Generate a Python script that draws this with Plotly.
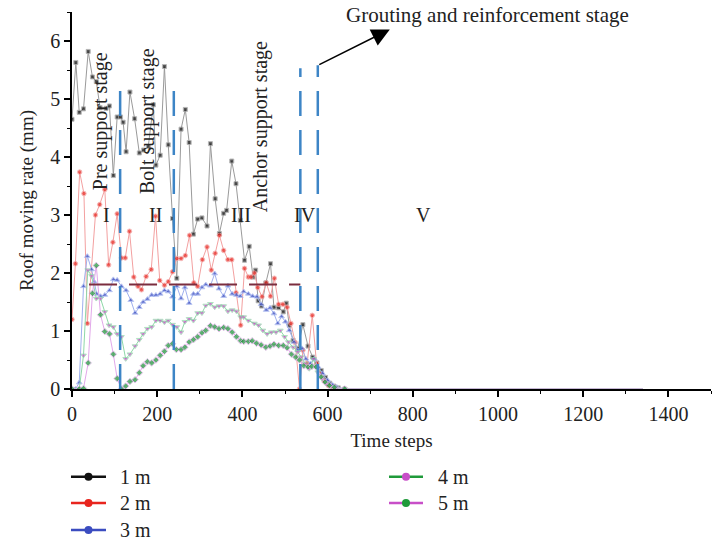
import plotly.graph_objects as go

# ---- data ----
x1 = [0, 9, 17, 27, 38, 48, 57, 66, 80, 88, 97, 106, 114, 120, 127, 136, 147, 158, 168, 179,
      191, 197, 207, 217, 226, 236, 246, 256, 266, 275, 285, 295, 305, 317, 325, 336, 346, 356, 363, 375,
      385, 395, 405, 416, 425, 431, 437, 445, 455, 466, 474, 485, 496, 503, 510, 519, 530, 542, 554, 565,
      575, 585, 595, 605, 615, 625, 640, 1340]
y1 = [4.65, 5.63, 4.77, 4.83, 5.82, 5.38, 5.3, 4.85, 4.84, 4.88, 3.68, 4.69, 4.69, 4.6, 4.09, 5.12, 4.66, 4.07, 4.12, 4.18,
      4.9, 3.86, 4.03, 5.56, 4.21, 2.94, 1.91, 4.48, 4.82, 4.25, 2.67, 2.93, 2.95, 2.81, 4.23, 3.28, 2.68, 3.03, 3.08, 3.93,
      3.54, 2.91, 2.22, 2.46, 1.93, 2.05, 1.52, 1.43, 1.83, 2.16, 1.41, 1.4, 1.33, 1.48, 1.1, 0.84, 0.7, 1.11, 0.74, 0.55,
      0.45, 0.32, 0.2, 0.1, 0.05, 0.02, 0, 0]

x2 = [0, 8, 18, 28, 36, 55, 65, 77, 86, 96, 106, 116, 125, 135, 145, 155, 163, 174, 186, 196,
      206, 217, 226, 236, 246, 256, 266, 276, 286, 295, 306, 317, 327, 336, 346, 356, 366, 375, 385, 396,
      405, 414, 420, 428, 436, 446, 456, 466, 475, 485, 495, 505, 514, 524, 534, 542, 552, 564, 574, 583,
      592, 602, 612, 622, 640, 1340]
y2 = [1.2, 2.16, 3.74, 3.37, 1.13, 3.0, 3.18, 3.44, 2.14, 2.53, 3.02, 2.26, 2.26, 2.72, 1.93, 1.77, 1.71, 1.94, 2.06, 2.98,
      1.87, 1.79, 1.85, 2.02, 2.25, 2.25, 2.3, 2.65, 1.83, 1.77, 2.23, 2.45, 2.05, 2.34, 2.65, 2.39, 2.23, 2.23, 1.66, 1.1,
      2.08, 1.93, 1.93, 2.0, 1.75, 1.59, 1.83, 1.6, 1.91, 1.46, 1.46, 1.41, 1.13, 0.8, 0.0, 0.67, 0.44, 1.27, 0.44, 0.27,
      0.14, 0.06, 0.03, 0.01, 0, 0]

x3 = [0, 8, 17, 27, 36, 46, 52, 58, 67, 77, 88, 97, 106, 116, 127, 138, 148, 158, 167, 177,
      187, 197, 207, 217, 226, 236, 246, 256, 265, 275, 285, 295, 305, 314, 325, 335, 345, 356, 366, 376,
      386, 395, 403, 414, 424, 434, 444, 456, 465, 474, 483, 492, 501, 510, 521, 530, 540, 549, 560, 569,
      578, 588, 600, 612, 622, 640, 1340]
y3 = [0, 0, 0.11, 1.77, 2.29, 2.06, 1.85, 1.64, 1.6, 1.62, 1.7, 1.89, 1.88, 1.77, 1.7, 1.53, 1.31, 1.41, 1.5, 1.55,
      1.62, 1.62, 1.64, 1.7, 1.68, 1.59, 1.77, 1.56, 1.75, 1.48, 1.64, 1.64, 1.75, 1.8, 1.78, 1.99, 1.73, 1.6, 1.78, 1.64,
      1.62, 1.6, 1.68, 1.64, 1.6, 1.59, 1.46, 1.36, 1.4, 1.3, 1.13, 1.25, 1.16, 1.01, 0.81, 0.67, 0.7, 0.52, 0.44, 0.52,
      0.38, 0.27, 0.15, 0.07, 0.03, 0, 0]

x4 = [0, 17, 27, 37, 46, 57, 67, 77, 87, 97, 106, 116, 126, 136, 148, 158, 167, 177, 187, 197,
      207, 217, 226, 236, 246, 256, 265, 275, 285, 295, 305, 314, 325, 335, 345, 356, 366, 376, 386, 396,
      403, 414, 428, 438, 448, 458, 468, 479, 489, 499, 508, 519, 530, 538, 547, 557, 567, 577, 587, 597,
      609, 620, 640, 1340]
y4 = [0, 0, 0.58, 2.05, 1.95, 1.56, 1.56, 1.33, 1.1, 1.07, 0.95, 0.9, 0.52, 0.6, 0.74, 0.85, 0.95, 1.04, 1.07, 1.18,
      1.18, 1.15, 1.18, 1.11, 1.07, 0.98, 1.16, 1.21, 1.18, 1.31, 1.31, 1.44, 1.47, 1.41, 1.43, 1.43, 1.34, 1.36, 1.34, 1.24,
      1.24, 1.18, 1.13, 1.1, 1.01, 0.95, 0.98, 0.98, 1.01, 0.9, 0.81, 0.72, 0.64, 0.55, 0.44, 0.35, 0.52, 0.29, 0.18, 0.09,
      0.04, 0.01, 0, 0]

x5 = [0, 17, 27, 38, 48, 57, 67, 77, 88, 97, 106, 116, 126, 136, 148, 158, 167, 177, 187, 197,
      207, 217, 226, 236, 245, 256, 265, 275, 285, 295, 305, 314, 325, 335, 345, 356, 366, 376, 386, 396,
      403, 414, 423, 433, 444, 455, 465, 474, 485, 496, 505, 515, 525, 534, 544, 554, 563, 573, 585, 594,
      604, 616, 640, 1340]
y5 = [0, 0, 0.01, 0.45, 1.65, 2.13, 1.28, 0.99, 0.95, 0.6, 0.18, 0.0, 0.05, 0.13, 0.16, 0.28, 0.4, 0.47, 0.45, 0.5,
      0.58, 0.65, 0.75, 0.78, 0.68, 0.68, 0.72, 0.81, 0.85, 0.9, 0.97, 1.01, 1.09, 1.07, 1.04, 1.06, 1.04, 0.98, 0.9, 0.83,
      0.82, 0.82, 0.83, 0.79, 0.76, 0.72, 0.74, 0.77, 0.75, 0.75, 0.71, 0.6, 0.55, 0.5, 0.4, 0.38, 0.39, 0.38, 0.21, 0.12,
      0.06, 0.03, 0, 0]

series_names = ["1 m", "2 m", "3 m", "4 m", "5 m"]
stage_bounds = [113, 239, 536, 577]          # vertical dashed separators
stage_tops = [5.3, 5.3, 5.53, 5.58]
ref_level = 1.8                              # horizontal reference level
ref_span = [40, 536]
roman = ["I", "II", "III", "IV", "V"]
roman_x = [80, 195, 396, 546, 826]
stage_names = ["Pre support stage", "Bolt support stage", "Anchor support stage"]
stage_name_x = [66, 176, 441]
stage_name_y = [4.62, 4.62, 4.53]

FONT = "Liberation Serif"
TXT = "#222222"
marker_cols = ["#111111", "#e8251e", "#3b4cc0", "#c84fc8", "#1f9a3a"]
line_cols = ["#9a9a9a", "#f3a0a0", "#9fb0ee", "#8fd8a8", "#e2a8ea"]
symbols = ["square", "circle", "triangle-up", "triangle-down", "diamond"]
sizes = [4, 4.5, 5, 5, 5]

fig = go.Figure()
for xs, ys, name, mc, lc, sym, sz in zip([x1, x2, x3, x4, x5], [y1, y2, y3, y4, y5], series_names,
                                          marker_cols, line_cols, symbols, sizes):
    msize = [sz] * (len(xs) - 1) + [0]
    fig.add_trace(go.Scatter(x=xs, y=ys, mode="lines+markers", name=name, showlegend=False,
                             line=dict(color=lc, width=1),
                             marker=dict(color=mc, symbol=sym, size=msize)))

shapes = []
for xb, top in zip(stage_bounds, stage_tops):
    shapes.append(dict(type="line", xref="x", yref="y", x0=xb, x1=xb, y0=0, y1=top,
                       line=dict(color="#3d85c6", width=2.5, dash="25px,14px")))
shapes.append(dict(type="line", xref="x", yref="y", x0=ref_span[0], x1=ref_span[1], y0=ref_level, y1=ref_level,
                   line=dict(color="#7b2d3f", width=2, dash="28px,12px")))

ann = []
for t, xr in zip(roman, roman_x):
    ann.append(dict(x=xr, y=3.0, xref="x", yref="y", text=t, showarrow=False,
                    font=dict(family=FONT, size=20, color=TXT)))
for t, xs_, ys_ in zip(stage_names, stage_name_x, stage_name_y):
    ann.append(dict(x=xs_, y=ys_, xref="x", yref="y", text=t, showarrow=False, textangle=-90,
                    font=dict(family=FONT, size=20, color=TXT)))
ann.append(dict(x=746, y=6.2, xref="x", yref="y", ax=577, ay=5.58, axref="x", ayref="y",
                text="", showarrow=True, arrowhead=2, arrowsize=2.4, arrowwidth=1.5, arrowcolor="#000"))
ann.append(dict(x=976, y=6.44, xref="x", yref="y", text="Grouting and reinforcement stage", showarrow=False,
                font=dict(family=FONT, size=21, color=TXT)))

# ---- legend (two columns, drawn in paper coordinates below the axes) ----
leg_line = ["#111111", "#e8251e", "#3b4cc0", "#1f9a3a", "#c84fc8"]
leg_mark = ["#111111", "#e8251e", "#3b4cc0", "#c84fc8", "#1f9a3a"]
col_x = [(-0.0016, 0.0532, 0.0258, 0.072), (0.4961, 0.5493, 0.5227, 0.5696)]  # line start, line end, dot, text
row_y = [-0.2326, -0.3024, -0.374]
leg_slots = [(0, 0), (0, 1), (0, 2), (1, 0), (1, 1)]
for name, lc, mc, (ci, ri) in zip(series_names, leg_line, leg_mark, leg_slots):
    lx0, lx1, dx, tx = col_x[ci]
    ly = row_y[ri]
    shapes.append(dict(type="line", xref="paper", yref="paper", x0=lx0, x1=lx1, y0=ly, y1=ly,
                       line=dict(color=lc, width=2.5)))
    shapes.append(dict(type="circle", xref="paper", yref="paper", xsizemode="pixel", ysizemode="pixel",
                       xanchor=dx, yanchor=ly, x0=-4, x1=4, y0=-4, y1=4,
                       fillcolor=mc, line=dict(color=mc, width=0)))
    ann.append(dict(x=tx, y=ly, xref="paper", yref="paper", text=name, showarrow=False,
                    xanchor="left", yanchor="middle", font=dict(family=FONT, size=20, color=TXT)))

axis_common = dict(showline=True, linecolor="#000", linewidth=1.5, ticks="outside", ticklen=6, tickwidth=1.5,
                   tickcolor="#000", showgrid=False, zeroline=False,
                   tickfont=dict(family=FONT, size=20, color=TXT))

fig.update_layout(
    width=714, height=546, margin=dict(l=72, r=3, t=12, b=157, autoexpand=False),
    paper_bgcolor="white", plot_bgcolor="white", showlegend=False,
    shapes=shapes, annotations=ann,
    xaxis=dict(range=[0, 1500], dtick=200, tick0=0,
               minor=dict(dtick=100, ticks="outside", ticklen=3, tickcolor="#000", tickwidth=1.2),
               title=dict(text="Time steps", font=dict(family=FONT, size=19, color=TXT), standoff=10),
               **axis_common),
    yaxis=dict(range=[0, 6.5], dtick=1, tick0=0,
               minor=dict(dtick=0.5, ticks="outside", ticklen=3, tickcolor="#000", tickwidth=1.2),
               title=dict(text="Roof moving rate (mm)", font=dict(family=FONT, size=19, color=TXT), standoff=12),
               **axis_common),
)

fig.write_html("out.html")
